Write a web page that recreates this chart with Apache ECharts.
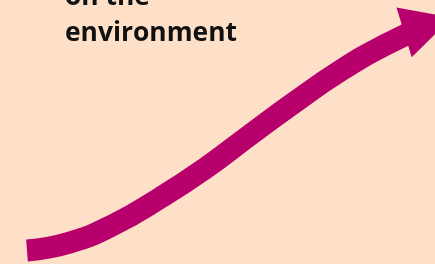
<!DOCTYPE html>
<html>
<head>
<meta charset="utf-8">
<script src="https://cdn.jsdelivr.net/npm/echarts@6/dist/echarts.min.js"></script>
<style>
  html, body { margin: 0; padding: 0; background: #FEDFC7; }
  #chart { width: 435px; height: 264px; }
</style>
</head>
<body>
<div id="chart"></div>
<script>
// path of the arrow (x across, y = height from bottom)
var pathX = [27, 70, 115, 160, 205, 250, 295, 340, 385, 428];
var pathY = [13.5, 21.5, 40, 66, 95.5, 129, 162, 193, 219, 239];
var caption = "on the\nenvironment";

var arrowColor = "#B7006B";

var points = pathX.map(function (x, i) {
    return [x, pathY[i]];
});
// arrowhead only on the last point
var lastIdx = points.length - 1;
var seriesData = points.map(function (p, i) {
    if (i === lastIdx) {
        return {
            value: p,
            symbol: "triangle",
            symbolSize: [52, 50],
            symbolRotate: -73,
            itemStyle: { color: arrowColor }
        };
    }
    return { value: p, symbol: "none" };
});

var chart = echarts.init(document.getElementById("chart"), null, { renderer: "canvas" });
chart.setOption({
    backgroundColor: "#FEDFC7",
    animation: false,
    title: {
        text: caption,
        left: 60,
        top: -26,
        textStyle: {
            fontFamily: "Open Sans",
            fontWeight: "bold",
            fontSize: 26.4,
            lineHeight: 36,
            color: "#111111"
        }
    },
    grid: { left: 0, right: 0, top: 0, bottom: 0 },
    xAxis: { type: "value", min: 0, max: 435, show: false },
    yAxis: { type: "value", min: 0, max: 264, show: false },
    series: [{
        type: "line",
        data: seriesData,
        smooth: 0.5,
        clip: false,
        showAllSymbol: true,
        lineStyle: { width: 22, color: arrowColor, cap: "butt" }
    }]
});
</script>
</body>
</html>
